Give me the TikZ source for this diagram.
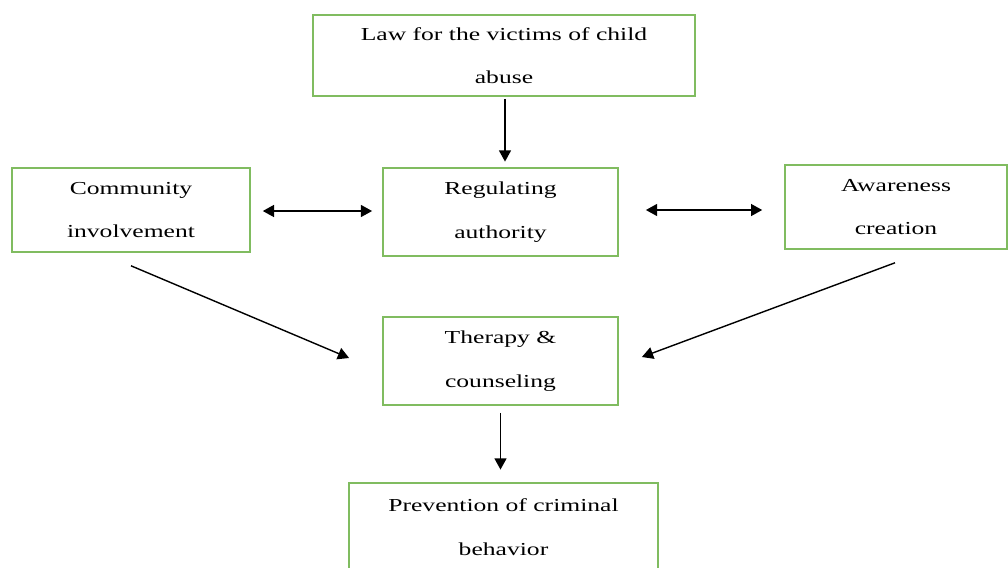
\documentclass[tikz,border=0pt]{standalone}
\usepackage{fontspec}
\setmainfont{Liberation Serif}[FakeStretch=1.4]
\usepackage{xcolor}
\usetikzlibrary{positioning}
\usetikzlibrary{arrows.meta}
\definecolor{boxgreen}{RGB}{128,188,96}

\begin{document}
\begin{tikzpicture}[x=0.025cm,y=-0.025cm,
	block/.style={draw=boxgreen, line width=1.1pt, align=center, inner sep=0pt,
		font=\fontsize{13}{31}\selectfont},
	link/.style={line width=1pt, -{Triangle[length=2.8mm,width=3mm]}},
	twoway/.style={line width=1pt, {Triangle[length=2.8mm,width=3mm]}-{Triangle[length=2.8mm,width=3mm]}}]

	\useasboundingbox (0,0) rectangle (1008,567);

	\node[block, minimum width=9.55cm, minimum height=2.02cm] (law) at (504,55.5) {Law for the victims of child\\abuse};
	\node[block, minimum width=5.95cm, minimum height=2.1cm] (comm) at (131,210) {Community\\involvement};
	\node[block, minimum width=5.88cm, minimum height=2.2cm] (reg) at (500.5,212) {Regulating\\authority};
	\node[block, minimum width=5.55cm, minimum height=2.1cm] (aware) at (896,207) {Awareness\\creation};
	\node[block, minimum width=5.88cm, minimum height=2.2cm] (ther) at (500.5,361) {Therapy \&\\counseling};
	\node[block, minimum width=7.72cm, minimum height=2.2cm] (prev) at (503.5,527) {Prevention of criminal\\behavior};

	% vertical flow
	\draw[link, shorten <=1.5pt, shorten >=4pt] ([shift={(1,0)}]law.south) -- ([shift={(1,0)}]law.south |- reg.north);
	\draw[link, shorten <=5pt, shorten >=9pt] (ther.south) -- (ther.south |- prev.north);

	% both-way links
	\draw[twoway] ([shift={(12,1)}]comm.east) -- ([shift={(-10,-1)}]reg.west);
	\draw[twoway] ([shift={(27,-2)}]reg.east) -- ([shift={(-22,3)}]aware.west);

	% into therapy
	\draw[link] ([shift={(0,13)}]comm.south) -- ([shift={(-33,-3)}]ther.west);
	\draw[link] ([shift={(-1,13)}]aware.south) -- ([shift={(23,-4)}]ther.east);

\end{tikzpicture}
\end{document}
